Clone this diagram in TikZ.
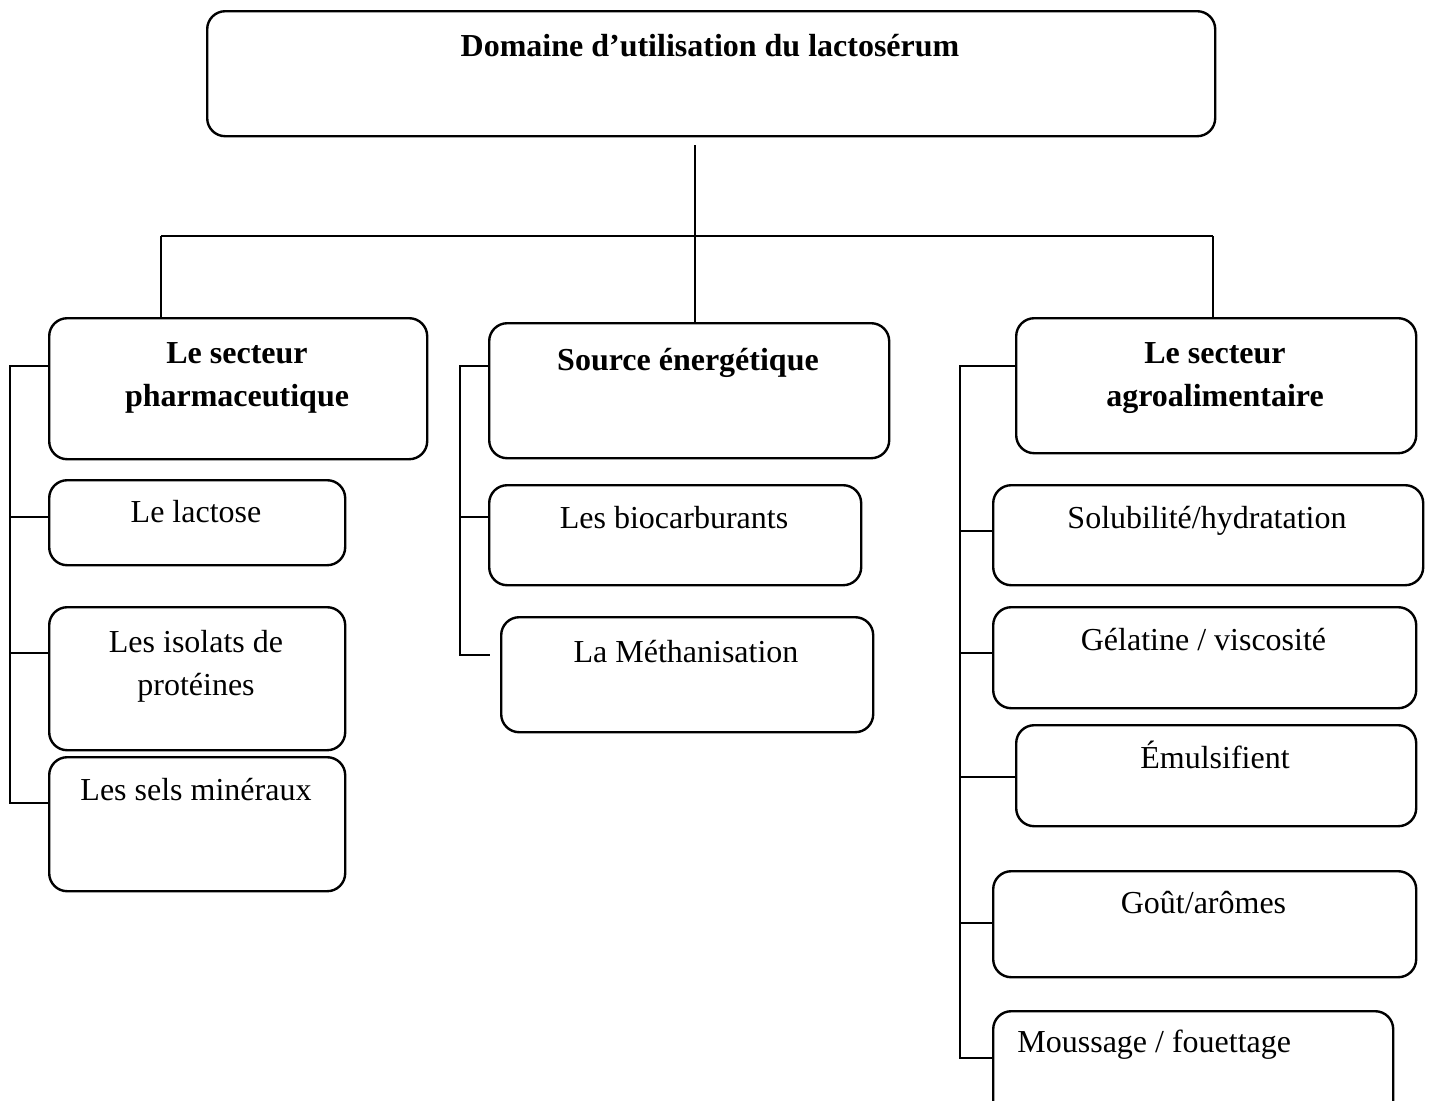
\documentclass[tikz,border=0pt]{standalone}
\usepackage{fontspec}
\setmainfont{Liberation Serif}
\usetikzlibrary{calc}
\begin{document}
\begin{tikzpicture}[x=0.5pt,y=-0.5pt,
  box/.style={draw, line width=1.2pt, rounded corners=9pt, anchor=north west, inner sep=0pt},
  lbl/.style={anchor=base, inner sep=0pt, font=\fontsize{16}{21.5}\selectfont},
  head/.style={lbl, font=\fontsize{16}{21.5}\selectfont\bfseries},
  link/.style={line width=1pt}]
\clip (0,0) rectangle (1429,1100);

% --- boxes ---
\node[box, minimum width=504pt,   minimum height=62.5pt] (top)     at (206,10)   {};
\node[box, minimum width=189pt,   minimum height=70.5pt] (pharma)  at (48,317)   {};
\node[box, minimum width=148pt,   minimum height=42.5pt] (lactose) at (48,479)   {};
\node[box, minimum width=148pt,   minimum height=71.5pt] (isolats) at (48,606)   {};
\node[box, minimum width=148pt,   minimum height=67pt]   (sels)    at (48,756)   {};
\node[box, minimum width=200pt,   minimum height=67.5pt] (source)  at (488,322)  {};
\node[box, minimum width=186pt,   minimum height=50pt]   (bio)     at (488,484)  {};
\node[box, minimum width=186pt,   minimum height=57.5pt] (metha)   at (500,616)  {};
\node[box, minimum width=200pt,   minimum height=67.5pt] (agro)    at (1015,317) {};
\node[box, minimum width=215pt,   minimum height=50pt]   (solub)   at (992,484)  {};
\node[box, minimum width=211.5pt, minimum height=50.5pt] (gela)    at (992,606)  {};
\node[box, minimum width=200pt,   minimum height=50.5pt] (emul)    at (1015,724) {};
\node[box, minimum width=211.5pt, minimum height=53pt]   (gout)    at (992,870)  {};
\node[box, minimum width=200pt,   minimum height=60pt]   (mouss)   at (992,1010) {};

% --- texts ---
\node[head] (top-t)     at (710,56)   {Domaine d’utilisation du lactosérum};
\node[head] (pharma-t)  at (237,363)  {\begin{tabular}[t]{@{}c@{}}Le secteur\\pharmaceutique\end{tabular}};
\node[lbl]  (lactose-t) at (196,522)  {Le lactose};
\node[lbl]  (isolats-t) at (196,652)  {\begin{tabular}[t]{@{}c@{}}Les isolats de\\protéines\end{tabular}};
\node[lbl]  (sels-t)    at (196,800)  {Les sels minéraux};
\node[head] (source-t)  at (688,370)  {Source énergétique};
\node[lbl]  (bio-t)     at (674,528)  {Les biocarburants};
\node[lbl]  (metha-t)   at (686,662)  {La Méthanisation};
\node[head] (agro-t)    at (1215,363) {\begin{tabular}[t]{@{}c@{}}Le secteur\\agroalimentaire\end{tabular}};
\node[lbl]  (solub-t)   at (1207,528) {Solubilité/hydratation};
\node[lbl]  (gela-t)    at (1203.5,650) {Gélatine / viscosité};
\node[lbl]  (emul-t)    at (1215,768) {Émulsifient};
\node[lbl]  (gout-t)    at (1203.5,913) {Goût/arômes};
\node[lbl, anchor=base west] (mouss-t) at (1017,1052) {Moussage / fouettage};

% --- tree from the title down to the three sectors ---
\coordinate (trunk) at (695,145);
\coordinate (bus)   at (695,236);
\coordinate (bus-l) at (161,236);
\coordinate (bus-r) at (1213,236);
\draw[link] (trunk) -- (bus |- source.north);
\draw[link] (bus-l) -- (bus-r);
\draw[link] (bus-l) -- (bus-l |- pharma.north);
\draw[link] (bus-r) -- (bus-r |- agro.north);

% --- pharmaceutical branch ---
\coordinate (L1) at (10,366);
\coordinate (L2) at (10,517);
\coordinate (L3) at (10,653);
\coordinate (L4) at (10,803);
\draw[link] (L1 -| pharma.west) -- (L1) -- (L4) -- (L4 -| sels.west);
\draw[link] (L2) -- (L2 -| lactose.west);
\draw[link] (L3) -- (L3 -| isolats.west);

% --- energy branch ---
\coordinate (M1) at (460,366);
\coordinate (M2) at (460,517);
\coordinate (M3) at (460,655);
\coordinate (M3e) at (490,655);
\draw[link] (M1 -| source.west) -- (M1) -- (M3) -- (M3e);
\draw[link] (M2) -- (M2 -| bio.west);

% --- food-industry branch ---
\coordinate (R1) at (960,366);
\coordinate (R2) at (960,531);
\coordinate (R3) at (960,653);
\coordinate (R4) at (960,777);
\coordinate (R5) at (960,923);
\coordinate (R6) at (960,1058);
\draw[link] (R1 -| agro.west) -- (R1) -- (R6) -- (R6 -| mouss.west);
\draw[link] (R2) -- (R2 -| solub.west);
\draw[link] (R3) -- (R3 -| gela.west);
\draw[link] (R4) -- (R4 -| emul.west);
\draw[link] (R5) -- (R5 -| gout.west);
\end{tikzpicture}
\end{document}
